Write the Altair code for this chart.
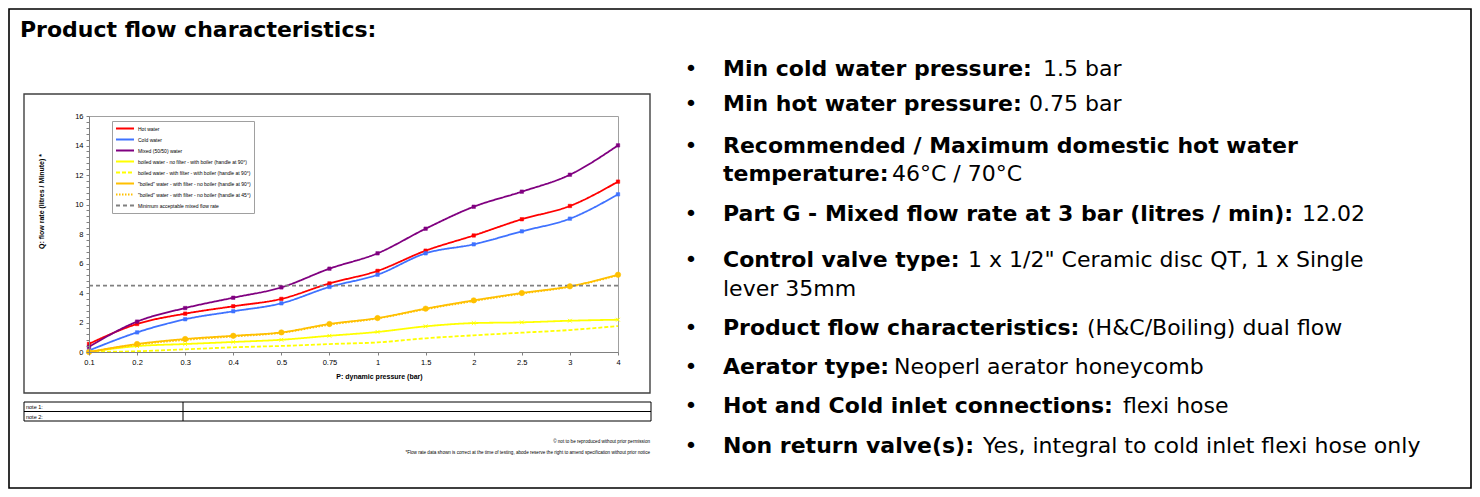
import altair as alt
import pandas as pd

# ---------------- data ----------------
pressure = ["0.1", "0.2", "0.3", "0.4", "0.5", "0.75", "1", "1.5", "2", "2.5", "3", "4"]

series_names = [
    "Hot water",
    "Cold water",
    "Mixed (50/50) water",
    "boiled water - no filter - with boiler (handle at 90°)",
    "boiled water - with filter - with boiler (handle at 90°)",
    "\"boiled\" water - with filter - no boiler (handle at 90°)",
    "\"boiled\" water - with filter - no boiler (handle at 45°)",
    "Minimum acceptable mixed flow rate",
]

hot = [0.55, 1.90, 2.60, 3.10, 3.60, 4.65, 5.50, 6.87, 7.90, 9.00, 9.90, 11.55]
cold = [0.10, 1.33, 2.22, 2.76, 3.30, 4.41, 5.24, 6.69, 7.30, 8.18, 9.04, 10.69]
mixed = [0.35, 2.06, 2.98, 3.68, 4.38, 5.65, 6.69, 8.36, 9.85, 10.87, 12.02, 14.01]
boil_nofilter_boiler90 = [0.00, 0.40, 0.54, 0.68, 0.83, 1.10, 1.36, 1.74, 1.96, 2.01, 2.12, 2.19]
boil_filter_boiler90 = [0.00, 0.05, 0.18, 0.32, 0.41, 0.54, 0.65, 0.93, 1.13, 1.31, 1.49, 1.76]
boil_filter_noboiler90 = [0.00, 0.54, 0.88, 1.10, 1.33, 1.90, 2.30, 2.94, 3.50, 4.00, 4.45, 5.24]
boil_filter_noboiler45 = [0.00, 0.50, 0.82, 1.05, 1.30, 1.85, 2.27, 2.90, 3.45, 3.96, 4.42, 5.20]
min_flow = [4.5, 4.5, 4.5, 4.5, 4.5, 4.5, 4.5, 4.5, 4.5, 4.5, 4.5, 4.5]

series_values = [hot, cold, mixed, boil_nofilter_boiler90, boil_filter_boiler90,
                 boil_filter_noboiler90, boil_filter_noboiler45, min_flow]

title_text = "Product flow characteristics:"
x_title = "P: dynamic pressure (bar)"
y_title = "Q: flow rate (litres  / Minute) *"

bold_labels = [
    "Min cold water pressure:",
    "Min hot water pressure:",
    "Recommended / Maximum domestic hot water",
    "temperature:",
    "Part G - Mixed flow rate at 3 bar (litres / min):",
    "Control valve type:",
    "",
    "Product flow characteristics:",
    "Aerator type:",
    "Hot and Cold inlet connections:",
    "Non return valve(s):",
]
value_texts = [
    "1.5 bar",
    "0.75 bar",
    "",
    "46°C / 70°C",
    "12.02",
    "1 x 1/2\" Ceramic disc QT, 1 x Single",
    "lever 35mm",
    "(H&C/Boiling) dual flow",
    "Neoperl aerator honeycomb",
    "flexi hose",
    "Yes, integral to cold inlet flexi hose only",
]
has_bullet = [True, True, True, False, True, True, False, True, True, True, True]

note_labels = ["note 1:", "note 2:"]
footer_lines = [
    "© not to be reproduced without prior permission",
    "*Flow rate data shown is correct at the time of testing, abode reserve the right to amend specification without prior notice",
]

# ---------------- styles / layout ----------------
colors = ["#FF0000", "#3F72FF", "#800080", "#FFFF00", "#FFFF00", "#FFC000", "#FFC000", "#808080"]
dashes = [[1, 0], [1, 0], [1, 0], [1, 0], [4, 2], [1, 0], [1.5, 1.5], [4, 3]]
widths = [1.8, 1.8, 1.8, 1.4, 1.1, 2.6, 1.6, 1.3]

OX, OY = 89, 116          # plot origin on the page
PW, PH = 529, 236         # plot size
SMALL = "Liberation Sans, Arial, sans-serif"
BIG = "DejaVu Sans, sans-serif"
BIGSIZE = 22

line_y = [69, 104, 146, 174, 214, 260, 289, 328, 367, 406, 446]
value_x = [1043, 1029, 0, 892, 1302, 968, 723, 1087, 894, 1123, 983]


def X(px):
    return px - OX


def Y(py):
    return py - OY


one = alt.Data(values=[{}])


def rect(x1, y1, x2, y2, stroke="black", sw=1.0):
    return alt.Chart(one).mark_rect(
        stroke=stroke, strokeWidth=sw, fill="white", fillOpacity=0
    ).encode(x=alt.value(X(x1)), x2=alt.value(X(x2)), y=alt.value(Y(y1)), y2=alt.value(Y(y2)))


def rule(x1, y1, x2, y2, color="black", sw=1.0):
    return alt.Chart(one).mark_rule(color=color, strokeWidth=sw).encode(
        x=alt.value(X(x1)), x2=alt.value(X(x2)), y=alt.value(Y(y1)), y2=alt.value(Y(y2)))


def text(t, x, y, size, weight="normal", align="left", font=BIG, color="black"):
    return alt.Chart(one).mark_text(
        text=t, align=align, baseline="middle", font=font, fontSize=size,
        fontWeight=weight, color=color
    ).encode(x=alt.value(X(x)), y=alt.value(Y(y)))


# ---------------- chart data ----------------
rows = []
for name, vals in zip(series_names, series_values):
    for p, v in zip(pressure, vals):
        rows.append({"series": name, "p": p, "q": v})
df = pd.DataFrame(rows)

xenc = alt.X(
    "p:O",
    scale=alt.Scale(type="point", domain=pressure, padding=0),
    axis=alt.Axis(
        title=x_title, labelAngle=0, labelFont=SMALL, labelFontSize=7.5, labelColor="black",
        titleFont=SMALL, titleFontSize=7, titleFontWeight="bold", titleColor="black",
        titleX=290, titleY=24, titleAlign="center", titleBaseline="middle",
        domainColor="#808080", tickColor="#808080", tickSize=3, labelPadding=3, zindex=1,
    ),
)
yticks = [round(i * 0.4, 1) for i in range(41)]
yenc = alt.Y(
    "q:Q",
    scale=alt.Scale(domain=[0, 16], nice=False, zero=True),
    axis=alt.Axis(
        title=y_title, values=yticks,
        labelExpr="abs(datum.value % 2) < 0.001 ? format(datum.value, 'd') : ''",
        labelFont=SMALL, labelFontSize=7.5, labelColor="black", labelOverlap=False,
        labelFlush=False, grid=False,
        titleFont=SMALL, titleFontSize=7, titleFontWeight="bold", titleColor="black",
        titleX=-48, titleY=85, titleAngle=270, titleAlign="center", titleBaseline="middle",
        domainColor="#808080", tickColor="#808080", tickSize=3, labelPadding=3, zindex=1,
    ),
)

legend = alt.Legend(
    title=None, orient="none", legendX=23, legendY=5, strokeColor="#A0A0A0", fillColor="white",
    padding=3, labelFont=SMALL, labelFontSize=5, labelColor="black", symbolType="stroke",
    symbolSize=324, symbolStrokeWidth=1.8, labelOffset=3, rowPadding=2, clipHeight=9,
    labelLimit=200,
)

base = alt.Chart(df)

lines = base.mark_line(interpolate="monotone").encode(
    x=xenc,
    y=yenc,
    color=alt.Color("series:N", scale=alt.Scale(domain=series_names, range=colors), legend=legend),
    strokeDash=alt.StrokeDash("series:N", scale=alt.Scale(domain=series_names, range=dashes), legend=legend),
    strokeWidth=alt.StrokeWidth("series:N", scale=alt.Scale(domain=series_names, range=widths), legend=None),
)


def markers(name, color, shape, size, filled=True, sw=1.0):
    kw = dict(shape=shape, size=size, filled=filled, opacity=1)
    if filled:
        kw["fill"] = color
        kw["stroke"] = color
        kw["strokeWidth"] = 0.5
    else:
        kw["stroke"] = color
        kw["strokeWidth"] = sw
    return base.transform_filter(alt.datum.series == name).mark_point(**kw).encode(
        x=xenc, y=yenc)


xshape = "M-1,-1L1,1M-1,1L1,-1"
point_layers = [
    markers(series_names[0], colors[0], "square", 12),
    markers(series_names[1], colors[1], "square", 12),
    markers(series_names[2], colors[2], "square", 12),
    markers(series_names[3], colors[3], xshape, 14, filled=False, sw=1.0),
    markers(series_names[5], colors[5], "circle", 30),
    markers(series_names[6], colors[6], "circle", 10),
]

# ---------------- decorations ----------------
deco_back = [
    rect(9, 9, 1471, 488, stroke="black", sw=1.6),
    rect(24, 94, 650, 393, stroke="#404040", sw=1.4),
]

deco_front = [
    text(title_text, 20, 30, BIGSIZE, weight="bold"),
    # notes table
    rect(24, 402, 651, 421, stroke="black", sw=1.0),
    rule(24, 411.5, 651, 411.5, sw=1.0),
    rule(183, 402, 183, 421, sw=1.0),
    text(note_labels[0], 26, 407, 5.5, font=SMALL),
    text(note_labels[1], 26, 416.5, 5.5, font=SMALL),
    text(footer_lines[0], 650, 442, 4.6, align="right", font=SMALL),
    text(footer_lines[1], 650, 453, 4.6, align="right", font=SMALL),
]

for i in range(len(line_y)):
    if has_bullet[i]:
        deco_front.append(text("•", 691, line_y[i], BIGSIZE, align="center"))
    if bold_labels[i]:
        deco_front.append(text(bold_labels[i], 723, line_y[i], BIGSIZE, weight="bold"))
    if value_texts[i]:
        deco_front.append(text(value_texts[i], value_x[i], line_y[i], BIGSIZE))

chart = alt.layer(*deco_back, lines, *point_layers, *deco_front).properties(
    width=PW,
    height=PH,
    padding={"left": 81, "top": 108, "right": 854, "bottom": 137},
    autosize=alt.AutoSizeParams(type="none"),
    background="white",
).configure_view(stroke="#A0A0A0", strokeWidth=1)

chart.save("out.html", embed_options={"renderer": "svg", "actions": False})
